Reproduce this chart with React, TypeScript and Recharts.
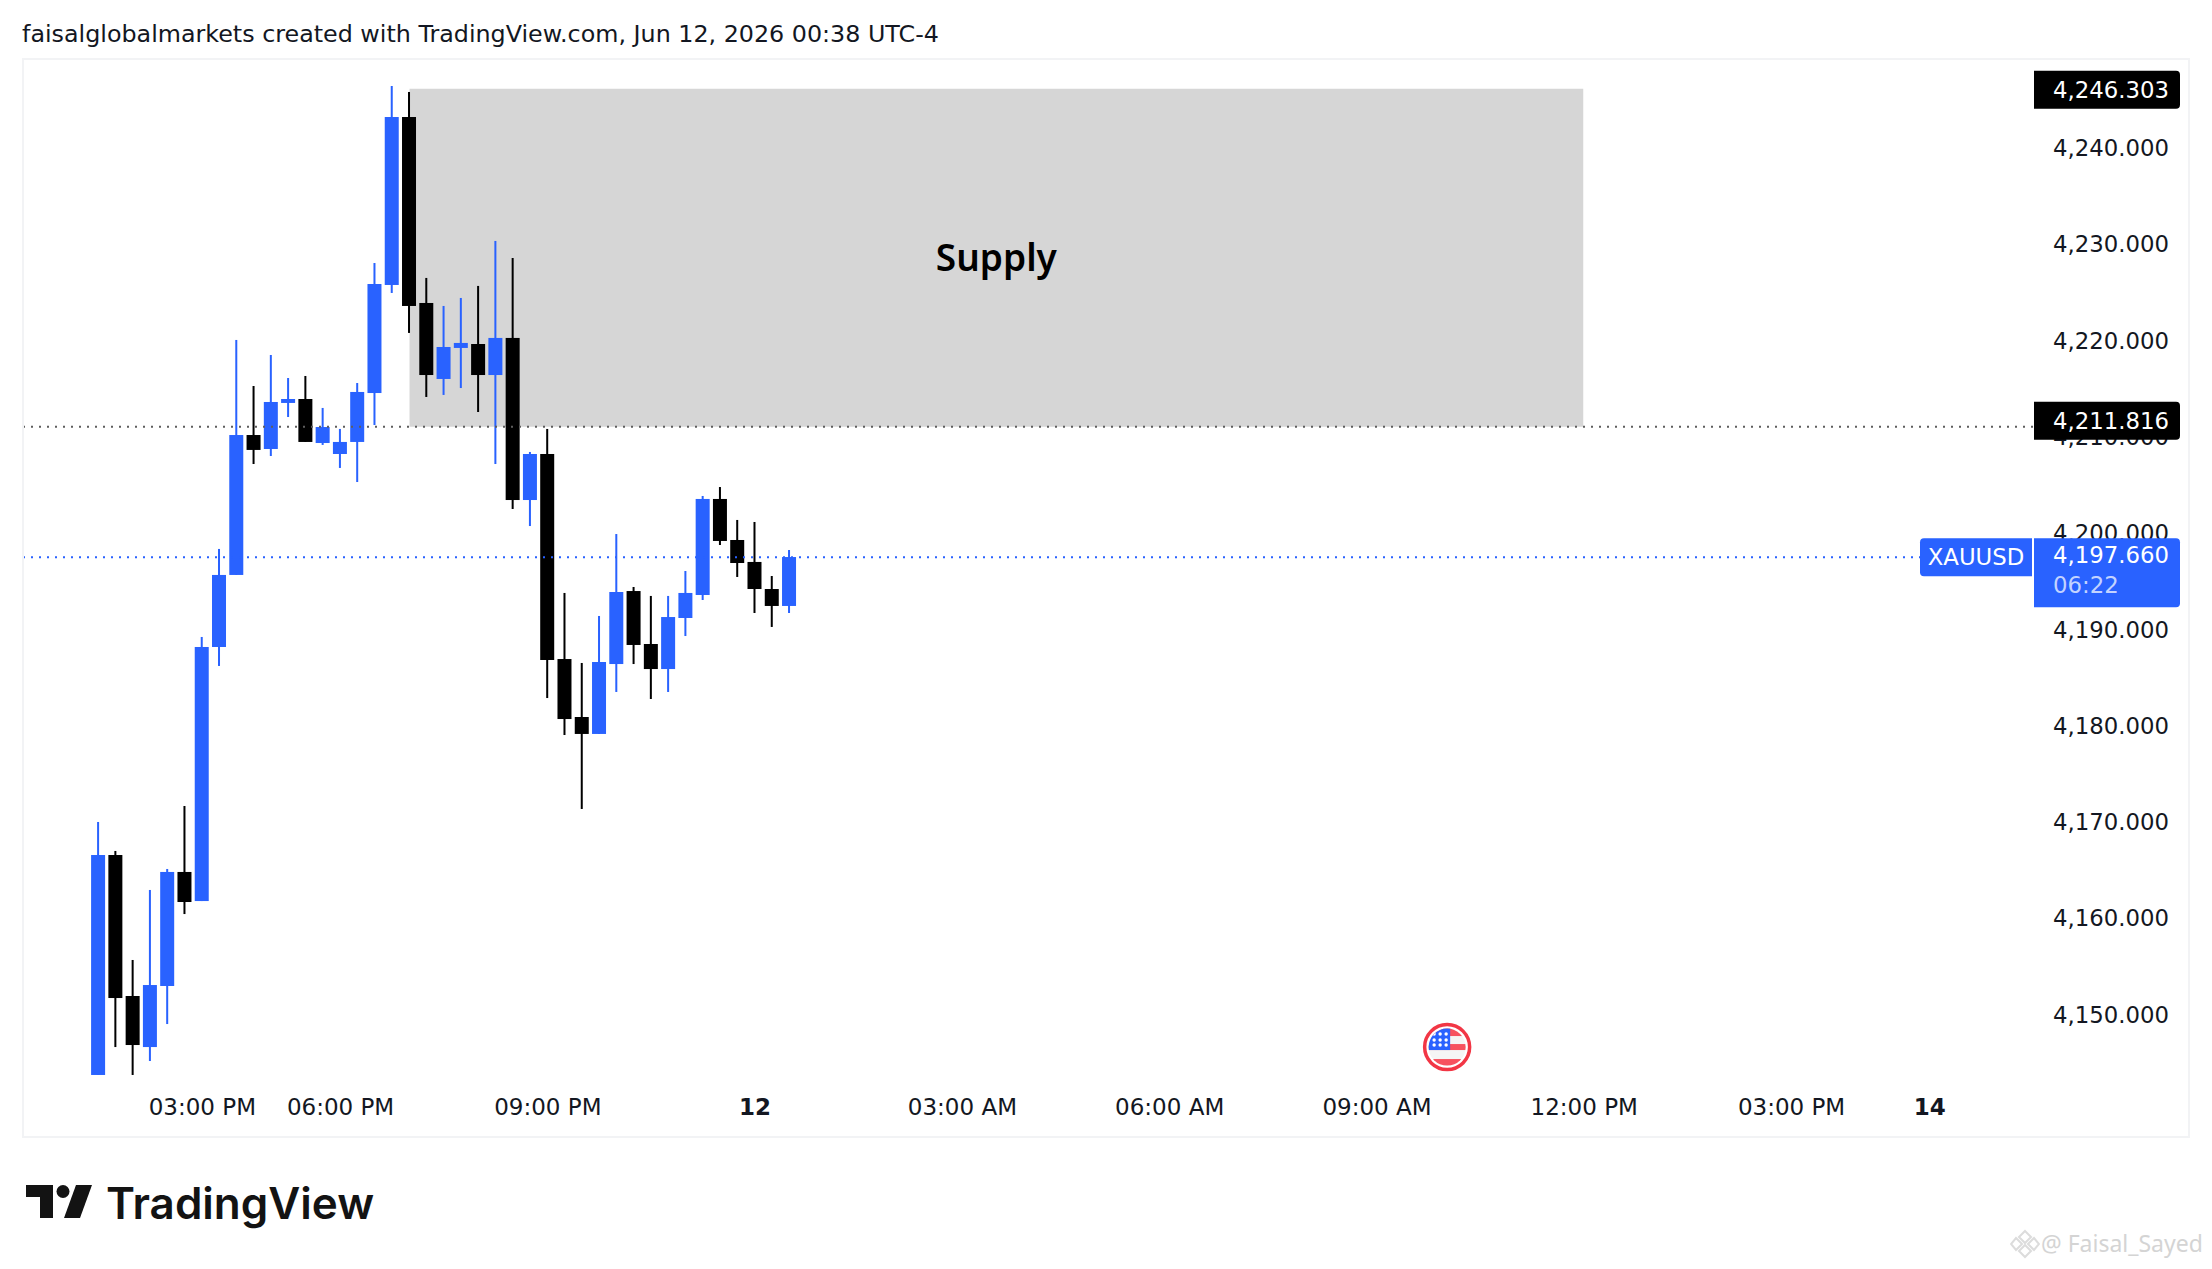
import {
  ComposedChart,
  Bar,
  XAxis,
  YAxis,
  ReferenceArea,
  ReferenceLine,
  ReferenceDot,
} from "recharts";

// 15m XAUUSD candles
const opens = [4143.9, 4166.74, 4152.1, 4146.8, 4153.14, 4164.98, 4161.96, 4188.34, 4195.82, 4210.35, 4208.9, 4213.68, 4214.09, 4209.52, 4208.38, 4209.63, 4214.71, 4225.93, 4243.37, 4224.06, 4216.17, 4219.39, 4219.8, 4216.58, 4220.43, 4203.6, 4208.38, 4187.09, 4181.07, 4179.31, 4186.57, 4194.15, 4188.65, 4186.05, 4191.35, 4193.74, 4203.71, 4199.45, 4197.17, 4194.36, 4192.6];
const highs = [4170.17, 4167.16, 4155.84, 4163.11, 4165.29, 4171.83, 4189.38, 4198.52, 4220.22, 4215.44, 4218.66, 4216.27, 4216.48, 4213.16, 4210.98, 4215.75, 4228.21, 4246.59, 4245.97, 4226.66, 4223.75, 4224.58, 4225.83, 4230.5, 4228.73, 4208.59, 4210.98, 4193.95, 4186.68, 4191.56, 4200.07, 4194.57, 4193.64, 4193.64, 4196.23, 4204.02, 4204.95, 4201.53, 4201.32, 4195.71, 4198.41];
const lows = [4143.9, 4146.8, 4143.9, 4145.35, 4149.19, 4160.61, 4161.96, 4186.37, 4195.82, 4207.34, 4208.17, 4212.22, 4209.63, 4209.32, 4206.93, 4205.47, 4211.39, 4225.1, 4220.95, 4214.3, 4214.51, 4215.23, 4212.74, 4207.34, 4202.67, 4200.9, 4183.04, 4179.2, 4171.52, 4179.31, 4183.67, 4186.57, 4182.94, 4183.67, 4189.48, 4193.22, 4198.93, 4195.61, 4191.87, 4190.42, 4191.87];
const closes = [4166.74, 4151.89, 4147.01, 4153.24, 4164.98, 4161.86, 4188.34, 4195.82, 4210.35, 4208.8, 4213.78, 4214.09, 4209.63, 4211.18, 4209.63, 4214.82, 4226.03, 4243.37, 4223.75, 4216.58, 4219.49, 4219.91, 4216.58, 4220.43, 4203.6, 4208.38, 4186.99, 4180.86, 4179.31, 4186.78, 4194.05, 4188.55, 4186.05, 4191.45, 4193.95, 4203.71, 4199.35, 4197.06, 4194.36, 4192.6, 4197.68];

// empty slots left and right of the candles, the time axis runs on into the future
const slots = Array.from({ length: 117 }, (_, i) => i - 4);
const timeTickSlots = [6, 14, 26, 38, 50, 62, 74, 86, 98, 106];
const timeTickLabels = ["03:00 PM", "06:00 PM", "09:00 PM", "12", "03:00 AM", "06:00 AM", "09:00 AM", "12:00 PM", "03:00 PM", "14"];
const boldTimeLabels = ["12", "14"];
const priceTicks = [4150, 4160, 4170, 4180, 4190, 4200, 4210, 4220, 4230, 4240];
const priceDomain = [4142.34, 4249.29];

const zoneTop = 4246.3;
const zoneBottom = 4211.2;
const zoneFrom = 18.05;
const zoneTo = 86.0;
const lastPrice = 4197.66;
const eventSlot = 78.12;
const eventPrice = 4146.8;

const BLUE = "#2962ff";
const FONT = "'DejaVu Sans', sans-serif";

const rows = slots.map((slot) => {
  const o = opens[slot];
  if (o === undefined) return { slot, range: null };
  return { slot, range: [lows[slot], highs[slot]], open: o, close: closes[slot], high: highs[slot], low: lows[slot] };
});

const Candle = ({ x, y, width, height, payload }: any) => {
  if (!payload || payload.open === undefined) return null;
  const { open, close, high, low } = payload;
  const perUnit = Math.abs(height) / (high - low);
  const top = y + (high - Math.max(open, close)) * perUnit;
  const h = Math.max(Math.abs(open - close) * perUnit, 1);
  const color = close >= open ? BLUE : "#000000";
  return (
    <g>
      <rect x={x + width / 2 - 1} y={y} width={2} height={Math.abs(height)} fill={color} />
      <rect x={x} y={top} width={width} height={h} fill={color} />
    </g>
  );
};

const TimeTick = ({ x, y, payload }: any) => {
  const i = timeTickSlots.indexOf(payload.value);
  if (i < 0) return null;
  const label = timeTickLabels[i];
  return (
    <text x={x + 1} y={y + 17} textAnchor="middle" fontFamily={FONT} fontSize={23} fontWeight={boldTimeLabels.includes(label) ? 700 : 400} fill="#131722">
      {label}
    </text>
  );
};

const PriceTick = ({ y, payload }: any) => (
  <text x={2169} y={y + 6.5} textAnchor="end" fontFamily={FONT} fontSize={22.8} fill="#131722">
    {payload.value.toLocaleString("en-US", { minimumFractionDigits: 3 })}
  </text>
);

// black tag on the price scale, square on the left and rounded on the right
const tagPath = (x: number, y: number, w: number, h: number) =>
  `M${x} ${y}H${x + w - 4}a4 4 0 0 1 4 4V${y + h - 4}a4 4 0 0 1 -4 4H${x}Z`;

const priceTag = (text: string, above: number) => (props: any) => {
  const top = props.viewBox.y - above;
  return (
    <g>
      <path d={tagPath(2034, top, 146, 38)} fill="#000000" />
      <text x={2169} y={top + 27} textAnchor="end" fontFamily={FONT} fontSize={22.8} fill="#ffffff">
        {text}
      </text>
    </g>
  );
};

const lastPriceTag = (props: any) => {
  const y = props.viewBox.y;
  return (
    <g>
      <rect x={2032} y={y - 19} width={2} height={38} fill="#ffffff" />
      <path d={`M1924 ${y - 19}H2032V${y + 19}H1924a4 4 0 0 1 -4 -4V${y - 15}a4 4 0 0 1 4 -4Z`} fill={BLUE} />
      <text x={1976} y={y + 8} textAnchor="middle" fontFamily={FONT} fontSize={22.8} fill="#ffffff">
        XAUUSD
      </text>
      <path d={tagPath(2034, y - 19, 146, 69)} fill={BLUE} />
      <text x={2169} y={y + 6} textAnchor="end" fontFamily={FONT} fontSize={22.8} fill="#ffffff">
        4,197.660
      </text>
      <text x={2053} y={y + 36} fontFamily={FONT} fontSize={22.8} fill="#c3d3ff">
        06:22
      </text>
    </g>
  );
};

const EventFlag = ({ cx, cy }: any) => {
  const starX = [-13, -7, -1];
  const starY = [-13, -7, -2];
  return (
    <g>
      <defs>
        <clipPath id="flagClip">
          <circle cx={cx} cy={cy} r={18.5} />
        </clipPath>
      </defs>
      <circle cx={cx} cy={cy} r={22.5} fill="#ffffff" stroke="#f23645" strokeWidth={3.5} />
      <g clipPath="url(#flagClip)">
        <rect x={cx - 19} y={cy - 19} width={38} height={38} fill="#f5f5f5" />
        <rect x={cx - 19} y={cy - 19} width={38} height={8} fill="#f7525f" />
        <rect x={cx - 19} y={cy - 3} width={38} height={6} fill="#f7525f" />
        <rect x={cx - 19} y={cy + 12} width={38} height={8} fill="#f7525f" />
        <rect x={cx - 19} y={cy - 19} width={22} height={22} fill={BLUE} />
        {starY.map((sy) =>
          starX.map((sx) => <circle key={`${sx}${sy}`} cx={cx + sx} cy={cy + sy} r={1.7} fill="#ffffff" />)
        )}
      </g>
    </g>
  );
};

export default function App() {
  return (
    <div style={{ position: "absolute", left: 0, top: 0, width: 2212, height: 1269, background: "#ffffff", overflow: "hidden" }}>
      <div style={{ position: "absolute", left: 22, top: 19, fontFamily: FONT, fontSize: 23.8, lineHeight: "30px", color: "#131722", whiteSpace: "nowrap" }}>
        faisalglobalmarkets created with TradingView.com, Jun 12, 2026 00:38 UTC-4
      </div>

      <div style={{ position: "absolute", left: 22, top: 0, width: 2168, height: 1138, overflow: "hidden" }}>
        <div style={{ position: "absolute", left: -22, top: 0 }}>
          <ComposedChart width={2212} height={1140} data={rows} margin={{ top: 60, right: 0, bottom: 0, left: 20 }} barCategoryGap={0}>
            <XAxis dataKey="slot" type="category" scale="band" height={50} interval={0} axisLine={false} tickLine={false} tick={<TimeTick />} />
            <XAxis xAxisId="t" dataKey="slot" type="number" domain={[-4.5, 112.5]} allowDataOverflow hide />
            <YAxis orientation="right" width={171} domain={priceDomain} allowDataOverflow ticks={priceTicks} axisLine={false} tickLine={false} tick={<PriceTick />} interval={0} />
            <ReferenceArea
              xAxisId="t"
              x1={zoneFrom}
              x2={zoneTo}
              y1={zoneBottom}
              y2={zoneTop}
              fill="#d6d6d6"
              fillOpacity={1}
              stroke="none"
              label={{ value: "Supply", position: "center", fill: "#000000", fontSize: 37, fontFamily: "'Noto Sans', sans-serif", fontWeight: 600 }}
            />
            <Bar dataKey="range" barSize={14} shape={<Candle />} isAnimationActive={false} />
            <ReferenceLine y={zoneBottom} stroke="#5d5d5d" strokeWidth={2} strokeDasharray="2 6" />
            <ReferenceLine y={lastPrice} stroke={BLUE} strokeWidth={2} strokeDasharray="2 6" />
            <ReferenceDot xAxisId="t" x={eventSlot} y={eventPrice} shape={<EventFlag />} />
          </ComposedChart>
        </div>
        {/* second chart on top: the axis ticks paint over reference labels, but the tags must cover them */}
        <div style={{ position: "absolute", left: -22, top: 0 }}>
          <ComposedChart width={2212} height={1140} data={rows} margin={{ top: 60, right: 171, bottom: 50, left: 20 }}>
            <XAxis dataKey="slot" type="category" hide />
            <YAxis domain={priceDomain} allowDataOverflow hide />
            <ReferenceLine y={zoneTop} stroke="none" label={priceTag("4,246.303", 18)} />
            <ReferenceLine y={zoneBottom} stroke="none" label={priceTag("4,211.816", 25)} />
            <ReferenceLine y={lastPrice} stroke="none" label={lastPriceTag} />
          </ComposedChart>
        </div>
      </div>

      <div style={{ position: "absolute", left: 22, top: 58, width: 2168, height: 1080, boxSizing: "border-box", border: "2px solid #f2f3f5", pointerEvents: "none" }} />

      <svg style={{ position: "absolute", left: 0, top: 1170 }} width={100} height={60}>
        <path d="M26 15H53V48H40V27H26Z" fill="#131313" />
        <circle cx={63} cy={21.5} r={6.5} fill="#131313" />
        <path d="M76 15H92L80 48H64Z" fill="#131313" />
      </svg>
      <div style={{ position: "absolute", left: 106, top: 1173, fontFamily: "Inter, sans-serif", fontWeight: 600, fontSize: 44, lineHeight: "60px", color: "#131313", whiteSpace: "nowrap" }}>
        TradingView
      </div>

      <svg style={{ position: "absolute", left: 2010, top: 1228 }} width={30} height={32}>
        <g fill="none" stroke="#dcdcdc" strokeWidth={2}>
          <path d="M15 3L21 9L15 15L9 9Z" />
          <path d="M6 10L12 16L6 22L1 16Z" />
          <path d="M24 10L29 16L24 22L18 16Z" />
          <path d="M15 17L21 23L15 29L9 23Z" />
        </g>
      </svg>
      <div style={{ position: "absolute", left: 2041, top: 1228, fontFamily: "'Noto Sans', sans-serif", fontSize: 23, lineHeight: "30px", color: "#d4d4d4", whiteSpace: "nowrap" }}>
        @ Faisal_Sayed
      </div>
    </div>
  );
}
